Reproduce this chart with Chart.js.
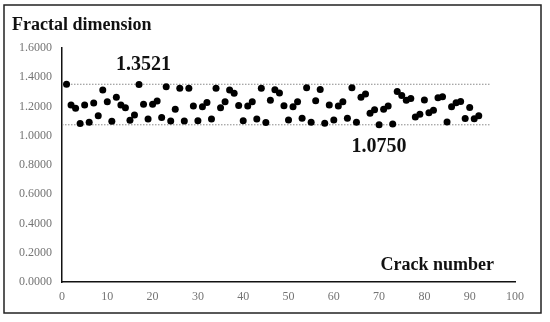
<!DOCTYPE html>
<html>
<head>
<meta charset="utf-8">
<script src="https://cdn.jsdelivr.net/npm/chart.js@4"></script>
<style>
  html, body { margin: 0; padding: 0; background: #fff; }
  #wrap { position: relative; width: 550px; height: 322px; }
</style>
</head>
<body>
<div id="wrap"><canvas id="fractalChart"></canvas></div>
<script>
// Data
const crackNumbers = [];
for (let i = 1; i <= 92; i++) crackNumbers.push(i);

const fractalDims = [
  1.3521, 1.210, 1.188, 1.083, 1.210, 1.093, 1.224, 1.136, 1.312, 1.233,
  1.100, 1.264, 1.210, 1.191, 1.106, 1.142, 1.350, 1.215, 1.115, 1.215,
  1.238, 1.124, 1.335, 1.101, 1.181, 1.324, 1.101, 1.324, 1.203, 1.103,
  1.199, 1.228, 1.115, 1.324, 1.192, 1.233, 1.312, 1.290, 1.206, 1.103,
  1.203, 1.233, 1.115, 1.324, 1.090, 1.242, 1.314, 1.292, 1.205, 1.108,
  1.199, 1.233, 1.119, 1.328, 1.092, 1.240, 1.317, 1.085, 1.210, 1.108,
  1.203, 1.233, 1.119, 1.328, 1.092, 1.263, 1.285, 1.153, 1.178, 1.0750,
  1.181, 1.203, 1.081, 1.303, 1.275, 1.242, 1.255, 1.128, 1.147, 1.244,
  1.158, 1.175, 1.260, 1.267, 1.094, 1.199, 1.226, 1.235, 1.118, 1.193,
  1.116, 1.136
];

const maxValue = 1.3521;
const minValue = 1.0750;
const refLineX = [0, 94.5];
const maxLabelAt = 18;   // crack number under the "1.3521" label
const minLabelAt = 70;   // crack number under the "1.0750" label

const serif = '"Liberation Serif", "Times New Roman", serif';

// border, titles and value labels
const textPlugin = {
  id: 'textPlugin',
  beforeDraw(chart) {
    const ctx = chart.ctx;
    ctx.save();
    ctx.strokeStyle = '#222';
    ctx.lineWidth = 1.5;
    ctx.strokeRect(4, 5, 537, 308);
    ctx.restore();
  },
  afterDraw(chart) {
    const ctx = chart.ctx;
    const xs = chart.scales.x, ys = chart.scales.y;
    ctx.save();
    ctx.fillStyle = '#111';
    ctx.textBaseline = 'alphabetic';

    ctx.font = 'bold 18px ' + serif;
    ctx.textAlign = 'left';
    ctx.fillText('Fractal dimension', 12, 30);
    ctx.textAlign = 'right';
    ctx.fillText('Crack number', 494, 270);

    ctx.font = 'bold 20px ' + serif;
    ctx.textAlign = 'center';
    ctx.fillText(maxValue.toFixed(4), xs.getPixelForValue(maxLabelAt), ys.getPixelForValue(maxValue) - 14);
    ctx.fillText(minValue.toFixed(4), xs.getPixelForValue(minLabelAt), ys.getPixelForValue(minValue) + 27);
    ctx.restore();
  }
};

const refLine = (v) => ({
  type: 'line',
  data: refLineX.map(x => ({ x, y: v })),
  borderColor: '#8a8a8a',
  borderWidth: 1,
  borderDash: [1.5, 1.5],
  pointRadius: 0,
  fill: false
});

new Chart(document.getElementById('fractalChart'), {
  type: 'scatter',
  data: {
    datasets: [
      {
        data: crackNumbers.map((n, i) => ({ x: n, y: fractalDims[i] })),
        backgroundColor: '#000',
        borderColor: '#000',
        borderWidth: 0,
        pointRadius: 3.5
      },
      refLine(maxValue),
      refLine(minValue)
    ]
  },
  options: {
    responsive: true,
    maintainAspectRatio: false,
    animation: false,
    layout: { padding: { left: 0, right: 35, top: 48, bottom: 0 } },
    plugins: { legend: { display: false }, tooltip: { enabled: false } },
    scales: {
      x: {
        min: 0, max: 100,
        grid: { display: false, drawTicks: false },
        border: { color: '#111', width: 1.5 },
        ticks: { stepSize: 10, padding: 8, color: '#747474', font: { family: serif, size: 12 } },
        afterFit: s => { s.height = 40; }
      },
      y: {
        min: 0, max: 1.6,
        grid: { display: false, drawTicks: false },
        border: { color: '#111', width: 1.5 },
        ticks: { stepSize: 0.2, padding: 10, color: '#747474', font: { family: serif, size: 12 },
                 callback: v => v.toFixed(4) },
        afterFit: s => { s.width = 62; }
      }
    }
  },
  plugins: [textPlugin]
});
</script>
</body>
</html>
